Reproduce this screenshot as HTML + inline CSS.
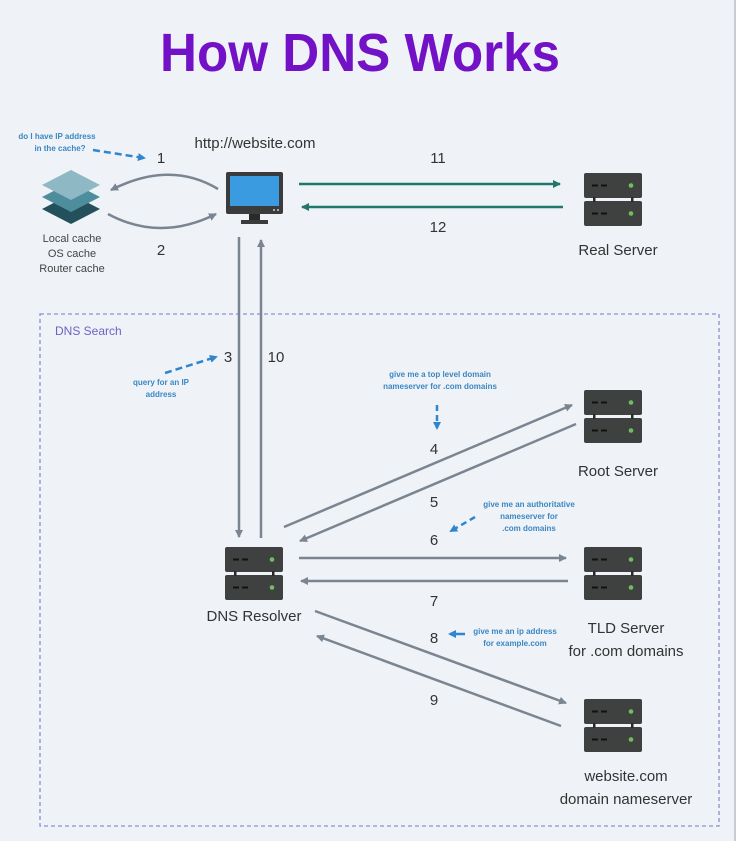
<!DOCTYPE html>
<html><head><meta charset="utf-8"><style>
html,body{margin:0;padding:0;background:#eff2f6;}
svg{display:block;font-family:"Liberation Sans",sans-serif;}
.bl{font-weight:bold;}
</style></head><body>
<svg width="736" height="841" viewBox="0 0 736 841" xmlns="http://www.w3.org/2000/svg">
<defs>
<marker id="ag" markerWidth="10" markerHeight="10" refX="7" refY="5" orient="auto" markerUnits="userSpaceOnUse"><path d="M0,1 L8,5 L0,9 Z" fill="#7b8591"/></marker>
<marker id="agr" markerWidth="10" markerHeight="10" refX="7" refY="5" orient="auto" markerUnits="userSpaceOnUse"><path d="M0,1 L8,5 L0,9 Z" fill="#21776a"/></marker>
<marker id="ab" markerWidth="10" markerHeight="10" refX="6" refY="5" orient="auto" markerUnits="userSpaceOnUse"><path d="M0,1 L8,5 L0,9 Z" fill="#2f86cf"/></marker>
<g id="srv">
<rect x="0" y="0" width="58" height="25" rx="2" fill="#3f4040"/>
<rect x="0" y="28" width="58" height="25" rx="2" fill="#3f4040"/>
<rect x="9" y="24" width="2.5" height="5" fill="#2a2a2a"/><rect x="47" y="24" width="2.5" height="5" fill="#2a2a2a"/>
<rect x="8" y="11.5" width="6" height="2" fill="#111"/><rect x="17" y="11.5" width="6" height="2" fill="#111"/>
<rect x="8" y="39.5" width="6" height="2" fill="#111"/><rect x="17" y="39.5" width="6" height="2" fill="#111"/>
<circle cx="47" cy="12.5" r="2.3" fill="#6fbf5e"/><circle cx="47" cy="40.5" r="2.3" fill="#6fbf5e"/>
</g>
</defs>
<rect x="734" y="0" width="2" height="841" fill="#c8ccd2"/>
<text x="360" y="71" text-anchor="middle" font-size="54" font-weight="bold" fill="#7211c6" textLength="400" lengthAdjust="spacingAndGlyphs">How DNS Works</text>

<rect x="40" y="314" width="679" height="512" fill="none" stroke="#8a8ed2" stroke-width="1.3" stroke-dasharray="4,3"/>
<text x="55" y="335" font-size="12" fill="#6e62c4">DNS Search</text>

<path d="M71,194 L100,209 L71,224 L42,209 Z" fill="#24505c"/>
<path d="M71,182 L100,197 L71,212 L42,197 Z" fill="#4e8e9c"/>
<path d="M71,170 L100,185 L71,200 L42,185 Z" fill="#8db8c4"/>
<text x="72" y="242" text-anchor="middle" font-size="11" fill="#444">Local cache</text>
<text x="72" y="257" text-anchor="middle" font-size="11" fill="#444">OS cache</text>
<text x="72" y="272" text-anchor="middle" font-size="11" fill="#444">Router cache</text>

<rect x="226" y="172" width="57" height="42" rx="2" fill="#3b3b3b"/>
<rect x="230" y="176" width="49" height="30" fill="#3a9be0"/>
<circle cx="274" cy="210" r="1" fill="#ccc"/><circle cx="278" cy="210" r="1" fill="#ccc"/>
<rect x="249" y="214" width="11" height="6" fill="#2a2a2a"/>
<rect x="241" y="220" width="27" height="4" fill="#3b3b3b"/>
<text x="255" y="148" text-anchor="middle" font-size="15" fill="#333">http://website.com</text>

<path d="M218,189 Q170,160 111,190" fill="none" stroke="#7b8591" stroke-width="2.5" marker-end="url(#ag)"/>
<path d="M108,214 Q160,242 216,214" fill="none" stroke="#7b8591" stroke-width="2.5" marker-end="url(#ag)"/>
<text x="161" y="163" text-anchor="middle" font-size="15" fill="#333">1</text>
<text x="161" y="255" text-anchor="middle" font-size="15" fill="#333">2</text>
<text class="bl" x="57" y="139" text-anchor="middle" font-size="8" fill="#3a87c4">do I have IP address</text>
<text class="bl" x="60" y="151" text-anchor="middle" font-size="8" fill="#3a87c4">in the cache?</text>
<path d="M93,150 L144,158" stroke="#2f86cf" stroke-width="2.5" stroke-dasharray="7,4" fill="none" marker-end="url(#ab)"/>

<line x1="299" y1="184" x2="560" y2="184" stroke="#21776a" stroke-width="2.5" marker-end="url(#agr)"/>
<line x1="563" y1="207" x2="302" y2="207" stroke="#21776a" stroke-width="2.5" marker-end="url(#agr)"/>
<text x="438" y="163" text-anchor="middle" font-size="15" fill="#333">11</text>
<text x="438" y="232" text-anchor="middle" font-size="15" fill="#333">12</text>
<use href="#srv" x="584" y="173"/>
<text x="618" y="255" text-anchor="middle" font-size="15" fill="#333">Real Server</text>

<line x1="239" y1="237" x2="239" y2="537" stroke="#7b8591" stroke-width="2.5" marker-end="url(#ag)"/>
<line x1="261" y1="538" x2="261" y2="240" stroke="#7b8591" stroke-width="2.5" marker-end="url(#ag)"/>
<text x="228" y="362" text-anchor="middle" font-size="15" fill="#333">3</text>
<text x="276" y="362" text-anchor="middle" font-size="15" fill="#333">10</text>
<path d="M165,373 L216,357" stroke="#2f86cf" stroke-width="2.5" stroke-dasharray="7,4" fill="none" marker-end="url(#ab)"/>
<text class="bl" x="161" y="385" text-anchor="middle" font-size="8" fill="#3a87c4">query for an IP</text>
<text class="bl" x="161" y="397" text-anchor="middle" font-size="8" fill="#3a87c4">address</text>

<use href="#srv" x="225" y="547"/>
<text x="254" y="621" text-anchor="middle" font-size="15" fill="#333">DNS Resolver</text>

<use href="#srv" x="584" y="390"/>
<text x="618" y="476" text-anchor="middle" font-size="15" fill="#333">Root Server</text>
<line x1="284" y1="527" x2="572" y2="405" stroke="#7b8591" stroke-width="2.5" marker-end="url(#ag)"/>
<line x1="576" y1="424" x2="300" y2="541" stroke="#7b8591" stroke-width="2.5" marker-end="url(#ag)"/>
<text x="434" y="454" text-anchor="middle" font-size="15" fill="#333">4</text>
<text x="434" y="507" text-anchor="middle" font-size="15" fill="#333">5</text>
<text class="bl" x="440" y="377" text-anchor="middle" font-size="8" fill="#3a87c4">give me a top level domain</text>
<text class="bl" x="440" y="389" text-anchor="middle" font-size="8" fill="#3a87c4">nameserver for .com domains</text>
<path d="M437,405 L437,428" stroke="#2f86cf" stroke-width="2.5" stroke-dasharray="6,4" fill="none" marker-end="url(#ab)"/>

<use href="#srv" x="584" y="547"/>
<text x="626" y="633" text-anchor="middle" font-size="15" fill="#333">TLD Server</text>
<text x="626" y="656" text-anchor="middle" font-size="15" fill="#333">for .com domains</text>
<line x1="299" y1="558" x2="566" y2="558" stroke="#7b8591" stroke-width="2.5" marker-end="url(#ag)"/>
<line x1="568" y1="581" x2="301" y2="581" stroke="#7b8591" stroke-width="2.5" marker-end="url(#ag)"/>
<text x="434" y="545" text-anchor="middle" font-size="15" fill="#333">6</text>
<text x="434" y="606" text-anchor="middle" font-size="15" fill="#333">7</text>
<text class="bl" x="529" y="507" text-anchor="middle" font-size="8" fill="#3a87c4">give me an authoritative</text>
<text class="bl" x="529" y="519" text-anchor="middle" font-size="8" fill="#3a87c4">nameserver for</text>
<text class="bl" x="529" y="531" text-anchor="middle" font-size="8" fill="#3a87c4">.com domains</text>
<path d="M475,517 L451,531" stroke="#2f86cf" stroke-width="2.5" stroke-dasharray="6,4" fill="none" marker-end="url(#ab)"/>

<use href="#srv" x="584" y="699"/>
<text x="626" y="781" text-anchor="middle" font-size="15" fill="#333">website.com</text>
<text x="626" y="804" text-anchor="middle" font-size="15" fill="#333">domain nameserver</text>
<line x1="315" y1="611" x2="566" y2="703" stroke="#7b8591" stroke-width="2.5" marker-end="url(#ag)"/>
<line x1="561" y1="726" x2="317" y2="636" stroke="#7b8591" stroke-width="2.5" marker-end="url(#ag)"/>
<text x="434" y="643" text-anchor="middle" font-size="15" fill="#333">8</text>
<text x="434" y="705" text-anchor="middle" font-size="15" fill="#333">9</text>
<path d="M465,634 L450,634" stroke="#2f86cf" stroke-width="2.5" fill="none" marker-end="url(#ab)"/>
<text class="bl" x="515" y="634" text-anchor="middle" font-size="8" fill="#3a87c4">give me an ip address</text>
<text class="bl" x="515" y="646" text-anchor="middle" font-size="8" fill="#3a87c4">for example.com</text>
</svg>
</body></html>
